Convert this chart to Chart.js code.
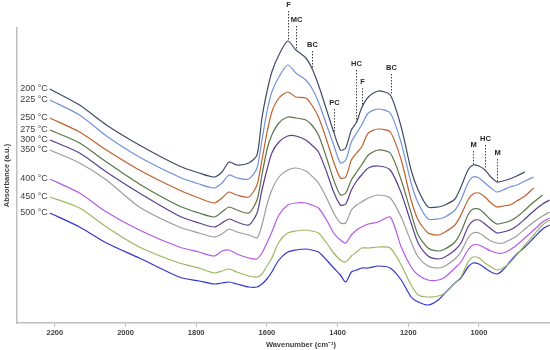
<!DOCTYPE html>
<html>
<head>
<meta charset="utf-8">
<script src="https://cdn.jsdelivr.net/npm/chart.js@4/dist/chart.umd.min.js"></script>
<style>
  html, body { margin: 0; padding: 0; background: #fff; overflow: hidden; }
  #wrap { width: 550px; height: 350px; overflow: hidden; }
</style>
</head>
<body>
<div id="wrap"><canvas id="spectra" width="590" height="350"></canvas></div>
<script>
// wavenumbers (cm-1) where the traces were read
const wavenumbers = [2214, 2130, 2054, 1961, 1848, 1792, 1749, 1727, 1707, 1685,
  1651, 1628, 1614, 1600, 1586, 1566, 1541, 1518, 1490, 1473,
  1454, 1431, 1411, 1392, 1377, 1361, 1346, 1332, 1313, 1285,
  1251, 1220, 1192, 1172, 1144, 1115, 1096, 1068, 1051, 1031,
  1017, 1000, 983, 966, 949, 932, 913, 893, 870, 845,
  820, 800];

// absorbance (a.u., stacked offsets as in the figure)
const abs200 = [234, 218, 198, 178, 157, 150, 146, 151, 161, 158,
  160, 168, 205, 231, 251, 268, 282, 273, 265, 255,
  238, 213, 191, 173, 175, 193, 201, 215, 226, 232,
  228, 196, 153, 133, 116, 116, 118, 124, 136, 153,
  158, 157, 153, 146, 141, 142, 144, 147, 151, null,
  null, null];
const abs225 = [223, 208, 187, 166, 146, 139, 135, 140, 148, 145,
  144, 155, 183, 211, 231, 246, 258, 250, 243, 235,
  221, 198, 178, 160, 163, 181, 190, 198, 210, 214,
  210, 180, 140, 120, 104, 104, 106, 113, 123, 140,
  146, 145, 140, 135, 131, 133, 136, 138, 142, 146,
  null, null];
const abs250 = [205, 191, 173, 153, 133, 125, 120, 125, 131, 128,
  126, 138, 163, 190, 211, 225, 231, 226, 225, 218,
  206, 183, 161, 145, 146, 163, 170, 176, 190, 194,
  191, 163, 123, 103, 90, 88, 91, 98, 108, 123,
  129, 130, 126, 120, 116, 117, 118, 122, 127, 135,
  null, null];
const abs275 = [193, 180, 161, 139, 117, 110, 106, 111, 116, 113,
  110, 123, 148, 173, 188, 200, 206, 205, 203, 198,
  188, 165, 143, 128, 130, 143, 151, 158, 168, 173,
  170, 143, 110, 88, 75, 72, 74, 81, 91, 108,
  114, 114, 109, 103, 99, 100, 102, 106, 113, 121,
  128, null];
const abs300 = [183, 170, 151, 130, 107, 100, 96, 100, 104, 101,
  98, 110, 133, 153, 170, 181, 187, 187, 183, 178,
  171, 151, 131, 118, 119, 133, 142, 148, 155, 157,
  153, 130, 100, 80, 67, 64, 66, 73, 80, 96,
  102, 103, 99, 94, 90, 91, 93, 97, 104, 112,
  119, 123];
const abs350 = [173, 160, 143, 116, 96, 90, 86, 89, 94, 91,
  88, 85, 98, 118, 133, 146, 153, 155, 152, 147,
  140, 125, 110, 100, 100, 113, 118, 121, 125, 128,
  125, 106, 81, 66, 57, 55, 57, 64, 71, 85,
  90, 90, 86, 82, 80, 80, 83, 87, 94, 101,
  107, 111];
const abs400 = [144, 130, 111, 93, 76, 71, 67, 72, 73, 69,
  65, 64, 70, 80, 91, 108, 118, 120, 120, 118,
  115, 103, 90, 83, 80, 88, 93, 96, 99, 101,
  106, 76, 56, 48, 43, 43, 46, 55, 61, 73,
  78, 78, 75, 72, 70, 70, 73, 78, 85, 93,
  101, 105];
const abs450 = [126, 115, 96, 76, 60, 55, 50, 52, 54, 51,
  47, 46, 49, 57, 65, 81, 90, 92, 93, 92,
  90, 80, 70, 63, 61, 67, 71, 75, 75, 76,
  75, 58, 38, 28, 26, 27, 30, 40, 46, 61,
  66, 65, 60, 56, 53, 55, 60, 68, 78, 88,
  98, 103];
const abs500 = [110, 96, 80, 65, 46, 42, 39, 40, 41, 39,
  36, 36, 39, 44, 51, 63, 71, 73, 74, 73,
  71, 63, 55, 48, 41, 51, 53, 55, 55, 57,
  55, 43, 26, 21, 18, 23, 30, 40, 45, 56,
  60, 59, 55, 51, 49, 53, 61, 69, 76, 85,
  94, 98];

const seriesNames = ["200 °C", "225 °C", "250 °C", "275 °C", "300 °C", "350 °C", "400 °C", "450 °C", "500 °C"];
const seriesValues = [abs200, abs225, abs250, abs275, abs300, abs350, abs400, abs450, abs500];
const seriesColors = ["#404c66", "#7393d6", "#c0602e", "#5b7548", "#5b3f8e", "#9c9c9c", "#b45ae6", "#9bb862", "#3535cc"];

// band assignments marked with dashed lines
const bandLabels = ["F", "MC", "BC", "PC", "HC", "F", "BC", "M", "HC", "M"];
const bandWavenumbers = [1541, 1518, 1473, 1411, 1349, 1332, 1248, 1017, 983, 949];
const bandLabelLevels = [318, 303, 278, 220, 259, 241, 255, 178, 184, 170];
const bandLineEnds = [283, 273, 255, 191, 201, 216, 228, 159, 155, 141];

const xTicks = [2200, 2000, 1800, 1600, 1400, 1200, 1000];

const FONT = '"Liberation Sans", Arial, sans-serif';
const AXIS_GREY = "#bfbfbf";
const TEXT = "#404040";

const datasets = seriesNames.map((name, i) => ({
  label: name,
  data: wavenumbers
    .map((w, j) => ({ x: w, y: seriesValues[i][j] }))
    .filter(p => p.y !== null),
  borderColor: seriesColors[i],
  borderWidth: 1.2,
  pointRadius: 0,
  tension: 0.25,
  fill: false
}));

// temperature labels + band markers
const overlay = {
  id: "overlay",
  afterDatasetsDraw(chart) {
    const { ctx } = chart;
    const xs = chart.scales.x, ys = chart.scales.y;
    ctx.save();

    ctx.font = "9px " + FONT;
    ctx.fillStyle = TEXT;
    ctx.textAlign = "right";
    ctx.textBaseline = "middle";
    chart.data.datasets.forEach(ds => {
      const p = ds.data[0];
      ctx.fillText(ds.label, xs.getPixelForValue(p.x) - 2, ys.getPixelForValue(p.y));
    });

    ctx.font = "bold 7.5px " + FONT;
    ctx.fillStyle = "#262626";
    ctx.textAlign = "center";
    ctx.strokeStyle = "#404040";
    ctx.lineWidth = 1;
    ctx.setLineDash([1.5, 1.5]);
    bandLabels.forEach((t, i) => {
      const px = Math.round(xs.getPixelForValue(bandWavenumbers[i])) + 0.5;
      const ty = ys.getPixelForValue(bandLabelLevels[i]);
      const by = ys.getPixelForValue(bandLineEnds[i]);
      ctx.fillText(t, px, ty);
      ctx.beginPath();
      ctx.moveTo(px, ty + 6);
      ctx.lineTo(px, by);
      ctx.stroke();
    });
    ctx.restore();
  }
};

new Chart(document.getElementById("spectra"), {
  type: "line",
  data: { datasets },
  plugins: [overlay],
  options: {
    responsive: false,
    animation: false,
    layout: { padding: { top: 28, right: 5, left: 0, bottom: 0 } },
    plugins: {
      legend: { display: false },
      tooltip: { enabled: false }
    },
    scales: {
      x: {
        type: "linear",
        reverse: true,
        min: 700,
        max: 2307,
        afterBuildTicks: axis => { axis.ticks = xTicks.map(v => ({ value: v })); },
        afterFit: axis => { axis.height = 27; },
        ticks: {
          color: TEXT,
          padding: 1,
          maxRotation: 0,
          autoSkip: false,
          callback: v => String(v),
          font: { family: FONT, size: 7.5, weight: "bold" }
        },
        grid: { drawOnChartArea: false, drawTicks: true, tickLength: 4, color: AXIS_GREY },
        border: { display: true, color: AXIS_GREY, width: 1.5 },
        title: {
          display: true,
          text: "Wavenumber (cm⁻¹)",
          color: TEXT,
          padding: { top: 0, bottom: 1 },
          font: { family: FONT, size: 7.5, weight: "bold" }
        }
      },
      y: {
        min: 0,
        max: 295,
        afterFit: axis => { axis.width = 17; },
        ticks: { display: false },
        grid: { display: false },
        border: { display: true, color: AXIS_GREY, width: 1.5 },
        title: {
          display: true,
          text: "Absorbance (a.u.)",
          color: TEXT,
          padding: { top: 2, bottom: 0 },
          font: { family: FONT, size: 7.5, weight: "bold" }
        }
      }
    }
  }
});
</script>
</body>
</html>
